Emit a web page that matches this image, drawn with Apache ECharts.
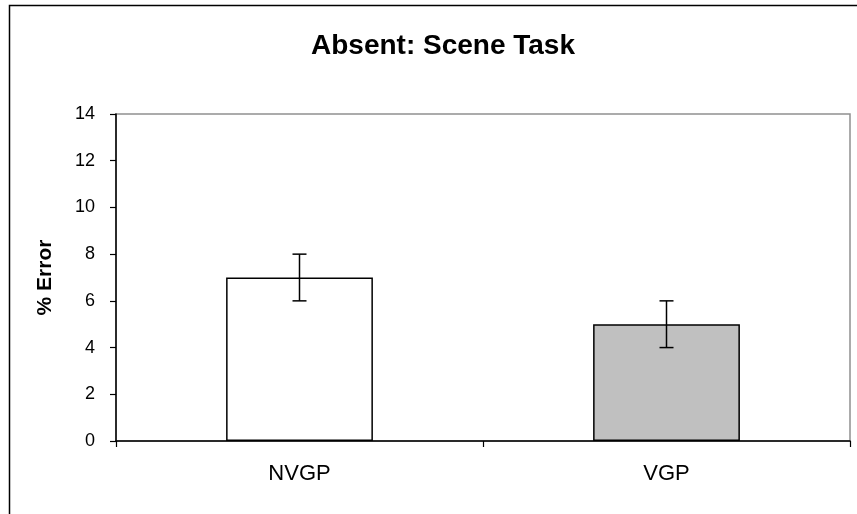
<!DOCTYPE html>
<html>
<head>
<meta charset="utf-8">
<script src="https://cdn.jsdelivr.net/npm/echarts@6/dist/echarts.min.js"></script>
<style>html,body{margin:0;padding:0;background:#fff;}#c{width:857px;height:514px;}</style>
</head>
<body>
<div id="c"></div>
<script>
var categories = ['NVGP', 'VGP'];
var meanError = [7, 5];
var errLow = [6, 4];
var errHigh = [8, 6];
var barColors = ['#ffffff', '#c0c0c0'];
var yTicks = [0, 2, 4, 6, 8, 10, 12, 14];

var chart = echarts.init(document.getElementById('c'), null, {renderer: 'canvas'});
var font = '"Liberation Sans", Arial, sans-serif';
chart.setOption({
  animation: false,
  backgroundColor: '#fff',
  title: {
    text: 'Absent: Scene Task',
    left: 438, top: 27, textAlign: 'center',
    textStyle: {fontFamily: font, fontSize: 28, fontWeight: 'bold', color: '#000'}
  },
  graphic: [{
    type: 'rect', shape: {x: 9.5, y: 5.5, width: 900, height: 600},
    style: {fill: 'none', stroke: '#000', lineWidth: 1.5}, silent: true
  }],
  grid: {left: 116, top: 114, right: 7, bottom: 73, show: true, borderColor: '#909090', borderWidth: 1.5, backgroundColor: 'transparent'},
  xAxis: {
    type: 'category', data: categories,
    axisLine: {lineStyle: {color: '#000', width: 1.5}},
    axisTick: {show: true, length: 6, lineStyle: {color: '#000', width: 1.2}},
    axisLabel: {margin: 22, fontFamily: font, fontSize: 22, color: '#000'}
  },
  yAxis: {
    type: 'value', min: yTicks[0], max: yTicks[yTicks.length - 1], interval: 2,
    name: '% Error', nameLocation: 'middle', nameGap: 60, nameRotate: 90,
    nameTextStyle: {fontFamily: font, fontSize: 21, fontWeight: 'bold', color: '#000'},
    axisLine: {show: true, lineStyle: {color: '#000', width: 1.5}},
    axisTick: {show: true, length: 6, lineStyle: {color: '#000', width: 1.2}},
    splitLine: {show: false},
    axisLabel: {margin: 21, fontFamily: font, fontSize: 18, color: '#000'}
  },
  series: [{
    type: 'bar', barWidth: '40%',
    data: meanError.map(function (v, i) {
      return {value: v, itemStyle: {color: barColors[i], borderColor: '#000', borderWidth: 1.5}};
    }),
    z: 2
  }, {
    type: 'custom', z: 5,
    data: categories.map(function (c, i) { return [i, errLow[i], errHigh[i]]; }),
    renderItem: function (params, api) {
      var lo = api.coord([api.value(0), api.value(1)]);
      var hi = api.coord([api.value(0), api.value(2)]);
      var hw = 7;
      var st = {stroke: '#000', lineWidth: 1.5};
      return {type: 'group', children: [
        {type: 'line', shape: {x1: hi[0], y1: hi[1], x2: lo[0], y2: lo[1]}, style: st},
        {type: 'line', shape: {x1: hi[0] - hw, y1: hi[1], x2: hi[0] + hw, y2: hi[1]}, style: st},
        {type: 'line', shape: {x1: lo[0] - hw, y1: lo[1], x2: lo[0] + hw, y2: lo[1]}, style: st}
      ]};
    }
  }]
});
</script>
</body>
</html>
